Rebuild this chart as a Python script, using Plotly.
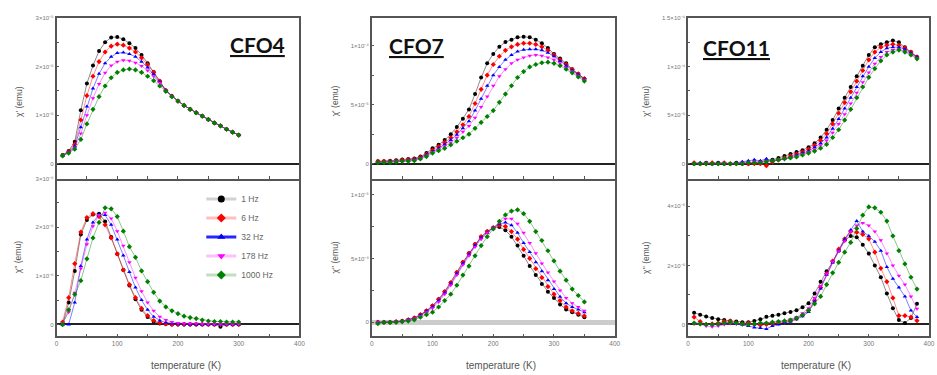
import plotly.graph_objects as go

# ---------------- data ----------------
FREQ_LABELS = ["1 Hz", "6 Hz", "32 Hz", "178 Hz", "1000 Hz"]
SAMPLES = ["CFO4", "CFO7", "CFO11"]

T_CFO4 = [10, 20, 30, 40, 50, 60, 70, 80, 90, 100, 110, 120, 130, 140, 150,
          160, 170, 180, 190, 200, 210, 220, 230, 240, 250, 260, 270, 280, 290, 300]
T_CFO7 = [10, 20, 30, 40, 50, 60, 70, 80, 90, 100, 110, 120, 130, 140, 150,
          160, 170, 180, 190, 200, 210, 220, 230, 240, 250, 260, 270, 280, 290, 300,
          310, 320, 330, 340, 350]
T_CFO11 = [10, 20, 30, 40, 50, 60, 70, 80, 90, 100, 110, 120, 130, 140, 150,
           160, 170, 180, 190, 200, 210, 220, 230, 240, 250, 260, 270, 280, 290, 300,
           310, 320, 330, 340, 350, 360, 370, 380]

# chi' of CFO4 (units of 1e-5 emu)
CFO4_REAL_1HZ = [0.18, 0.26, 0.45, 1.10, 1.65, 2.02, 2.32, 2.50, 2.60, 2.61, 2.56, 2.48, 2.38, 2.24, 2.07,
                 1.89, 1.70, 1.50, 1.39, 1.29, 1.20, 1.12, 1.05, 0.98, 0.91, 0.84, 0.78, 0.71, 0.65, 0.59]
CFO4_REAL_6HZ = [0.17, 0.25, 0.40, 0.90, 1.40, 1.80, 2.10, 2.30, 2.42, 2.46, 2.44, 2.38, 2.30, 2.18, 2.04,
                 1.88, 1.70, 1.51, 1.39, 1.29, 1.20, 1.12, 1.05, 0.98, 0.91, 0.84, 0.78, 0.71, 0.65, 0.59]
CFO4_REAL_32HZ = [0.17, 0.24, 0.36, 0.75, 1.18, 1.55, 1.85, 2.07, 2.20, 2.28, 2.29, 2.26, 2.20, 2.10, 1.98,
                  1.84, 1.68, 1.51, 1.39, 1.29, 1.20, 1.12, 1.05, 0.98, 0.91, 0.84, 0.78, 0.71, 0.65, 0.59]
CFO4_REAL_178HZ = [0.16, 0.23, 0.33, 0.62, 1.00, 1.35, 1.64, 1.87, 2.02, 2.10, 2.13, 2.12, 2.08, 2.01, 1.92,
                   1.80, 1.66, 1.50, 1.39, 1.29, 1.20, 1.12, 1.05, 0.98, 0.91, 0.84, 0.78, 0.71, 0.65, 0.59]
CFO4_REAL_1000HZ = [0.16, 0.22, 0.30, 0.50, 0.82, 1.12, 1.38, 1.60, 1.77, 1.88, 1.93, 1.95, 1.93, 1.88, 1.80,
                    1.71, 1.60, 1.49, 1.38, 1.29, 1.20, 1.12, 1.05, 0.98, 0.91, 0.84, 0.78, 0.71, 0.65, 0.59]

# chi'' of CFO4 (units of 1e-6 emu)
CFO4_IMAG_1HZ = [0.00, 0.45, 1.10, 1.85, 2.15, 2.26, 2.28, 2.12, 1.80, 1.45, 1.12, 0.80, 0.52, 0.30, 0.15,
                 0.06, 0.02, 0.01, 0.00, 0.00, 0.00, 0.00, 0.00, 0.00, 0.00, 0.00, -0.05, 0.00, 0.00, 0.00]
CFO4_IMAG_6HZ = [0.05, 0.55, 1.25, 1.90, 2.20, 2.28, 2.22, 2.05, 1.78, 1.45, 1.12, 0.82, 0.55, 0.33, 0.18,
                 0.08, 0.03, 0.01, 0.00, 0.00, 0.00, 0.00, 0.00, 0.00, 0.00, 0.00, 0.00, 0.00, 0.00, 0.00]
CFO4_IMAG_32HZ = [0.00, 0.00, 0.45, 1.20, 1.75, 2.10, 2.26, 2.25, 2.05, 1.75, 1.42, 1.08, 0.76, 0.50, 0.30,
                  0.16, 0.08, 0.04, 0.02, 0.01, 0.01, 0.00, 0.00, 0.00, 0.00, 0.00, 0.00, 0.00, 0.00, 0.00]
CFO4_IMAG_178HZ = [0.03, 0.25, 0.65, 1.15, 1.65, 2.02, 2.25, 2.30, 2.18, 1.92, 1.62, 1.28, 0.96, 0.68, 0.45,
                   0.28, 0.16, 0.09, 0.05, 0.03, 0.02, 0.02, 0.02, 0.01, 0.01, 0.01, 0.01, 0.01, 0.01, 0.01]
CFO4_IMAG_1000HZ = [0.00, 0.30, 0.62, 0.90, 1.35, 1.78, 2.10, 2.40, 2.38, 2.22, 1.92, 1.60, 1.38, 1.10, 0.88,
                    0.66, 0.48, 0.36, 0.28, 0.22, 0.17, 0.14, 0.12, 0.09, 0.07, 0.06, 0.06, 0.05, 0.05, 0.05]

# chi' of CFO7 (units of 1e-4 emu)
CFO7_REAL_1HZ = [0.02, 0.02, 0.025, 0.03, 0.035, 0.04, 0.045, 0.06, 0.09, 0.13,
                 0.16, 0.20, 0.25, 0.31, 0.38, 0.46, 0.59, 0.73, 0.85, 0.93,
                 0.99, 1.03, 1.05, 1.07, 1.075, 1.07, 1.05, 1.02, 0.98, 0.93,
                 0.89, 0.85, 0.80, 0.76, 0.72]
CFO7_REAL_6HZ = [0.02, 0.02, 0.02, 0.025, 0.03, 0.035, 0.04, 0.055, 0.08, 0.115,
                 0.145, 0.18, 0.22, 0.27, 0.33, 0.40, 0.51, 0.63, 0.75, 0.84,
                 0.91, 0.96, 0.99, 1.01, 1.02, 1.02, 1.01, 0.99, 0.96, 0.92,
                 0.88, 0.84, 0.80, 0.76, 0.72]
CFO7_REAL_32HZ = [0.015, 0.015, 0.02, 0.02, 0.025, 0.03, 0.035, 0.05, 0.075, 0.105,
                  0.13, 0.165, 0.20, 0.245, 0.30, 0.36, 0.45, 0.55, 0.66, 0.75,
                  0.82, 0.88, 0.92, 0.95, 0.965, 0.97, 0.97, 0.96, 0.94, 0.91,
                  0.87, 0.83, 0.79, 0.755, 0.715]
CFO7_REAL_178HZ = [0.01, 0.015, 0.015, 0.02, 0.02, 0.025, 0.03, 0.045, 0.07, 0.10,
                   0.12, 0.15, 0.18, 0.22, 0.27, 0.32, 0.39, 0.48, 0.57, 0.66,
                   0.74, 0.80, 0.85, 0.88, 0.90, 0.915, 0.92, 0.915, 0.90, 0.88,
                   0.85, 0.81, 0.78, 0.745, 0.71]
CFO7_REAL_1000HZ = [0.01, 0.01, 0.01, 0.015, 0.02, 0.02, 0.025, 0.04, 0.06, 0.09,
                    0.11, 0.13, 0.16, 0.19, 0.22, 0.25, 0.30, 0.35, 0.40, 0.45,
                    0.52, 0.59, 0.66, 0.73, 0.78, 0.82, 0.84, 0.855, 0.86, 0.85,
                    0.83, 0.80, 0.77, 0.735, 0.70]

# chi'' of CFO7 (units of 1e-5 emu)
CFO7_IMAG_1HZ = [0.0, 0.0, 0.0, 0.005, 0.01, 0.02, 0.035, 0.06, 0.09, 0.13,
                 0.18, 0.24, 0.31, 0.39, 0.47, 0.54, 0.61, 0.67, 0.71, 0.74,
                 0.745, 0.72, 0.67, 0.60, 0.52, 0.44, 0.37, 0.30, 0.24, 0.19,
                 0.14, 0.10, 0.08, 0.06, 0.04]
CFO7_IMAG_6HZ = [0.0, 0.0, 0.0, 0.005, 0.01, 0.02, 0.035, 0.06, 0.09, 0.13,
                 0.18, 0.24, 0.31, 0.39, 0.47, 0.54, 0.61, 0.67, 0.71, 0.74,
                 0.76, 0.75, 0.71, 0.65, 0.57, 0.50, 0.42, 0.35, 0.28, 0.22,
                 0.17, 0.12, 0.09, 0.07, 0.05]
CFO7_IMAG_32HZ = [0.0, 0.0, 0.0, 0.005, 0.01, 0.02, 0.03, 0.055, 0.085, 0.12,
                  0.17, 0.23, 0.30, 0.38, 0.46, 0.53, 0.60, 0.66, 0.70, 0.74,
                  0.77, 0.78, 0.76, 0.70, 0.62, 0.55, 0.47, 0.40, 0.33, 0.26,
                  0.20, 0.15, 0.12, 0.10, 0.08]
CFO7_IMAG_178HZ = [0.0, 0.0, 0.0, 0.005, 0.01, 0.02, 0.03, 0.05, 0.08, 0.11,
                   0.16, 0.22, 0.29, 0.37, 0.45, 0.52, 0.59, 0.65, 0.70, 0.74,
                   0.78, 0.81, 0.81, 0.77, 0.70, 0.62, 0.54, 0.46, 0.39, 0.32,
                   0.25, 0.19, 0.15, 0.12, 0.09]
CFO7_IMAG_1000HZ = [-0.01, 0.0, 0.0, 0.0, 0.005, 0.01, 0.02, 0.04, 0.06, 0.08,
                    0.12, 0.17, 0.22, 0.29, 0.37, 0.44, 0.52, 0.60, 0.67, 0.73,
                    0.79, 0.84, 0.87, 0.88, 0.85, 0.79, 0.71, 0.64, 0.56, 0.48,
                    0.40, 0.33, 0.26, 0.21, 0.16]

# chi' of CFO11 (units of 1e-4 emu)
CFO11_REAL_1HZ = [0.0, 0.0, 0.01, 0.0, 0.01, 0.0, 0.0, 0.01, 0.0, 0.0,
                  0.01, 0.02, 0.03, 0.04, 0.06, 0.08, 0.10, 0.12, 0.14, 0.17,
                  0.21, 0.27, 0.35, 0.45, 0.57, 0.68, 0.79, 0.90, 1.01, 1.12,
                  1.20, 1.23, 1.25, 1.27, 1.25, 1.20, 1.15, 1.10]
CFO11_REAL_6HZ = [0.01, 0.0, 0.0, 0.01, 0.0, 0.01, 0.0, 0.0, 0.01, 0.0,
                  0.0, 0.0, -0.02, 0.02, 0.04, 0.06, 0.08, 0.10, 0.12, 0.15,
                  0.19, 0.24, 0.31, 0.41, 0.52, 0.63, 0.74, 0.85, 0.96, 1.07,
                  1.15, 1.20, 1.22, 1.23, 1.22, 1.19, 1.15, 1.10]
CFO11_REAL_32HZ = [0.0, 0.01, 0.0, 0.0, 0.01, 0.0, 0.0, 0.01, 0.02, 0.03,
                   0.04, 0.03, 0.05, 0.03, 0.04, 0.05, 0.07, 0.09, 0.11, 0.13,
                   0.17, 0.21, 0.27, 0.36, 0.46, 0.57, 0.68, 0.79, 0.90, 1.00,
                   1.09, 1.15, 1.19, 1.20, 1.20, 1.18, 1.14, 1.10]
CFO11_REAL_178HZ = [0.0, 0.0, 0.01, 0.0, 0.0, 0.01, 0.0, 0.0, 0.01, 0.01,
                    0.02, 0.02, 0.03, 0.03, 0.04, 0.05, 0.06, 0.08, 0.10, 0.12,
                    0.15, 0.19, 0.24, 0.32, 0.41, 0.51, 0.62, 0.73, 0.84, 0.94,
                    1.03, 1.10, 1.15, 1.17, 1.18, 1.16, 1.13, 1.09]
CFO11_REAL_1000HZ = [0.0, 0.0, 0.0, 0.0, 0.0, 0.0, 0.0, 0.0, 0.0, 0.01,
                     0.01, 0.01, 0.02, 0.03, 0.04, 0.05, 0.06, 0.07, 0.09, 0.11,
                     0.13, 0.16, 0.20, 0.27, 0.35, 0.45, 0.56, 0.68, 0.79, 0.89,
                     0.98, 1.06, 1.12, 1.15, 1.17, 1.15, 1.12, 1.08]

# chi'' of CFO11 (units of 1e-6 emu)
CFO11_IMAG_1HZ = [0.40, 0.33, 0.27, 0.22, 0.18, 0.15, 0.12, 0.10, 0.08, 0.08,
                  0.12, 0.18, 0.26, 0.30, 0.33, 0.38, 0.42, 0.48, 0.58, 0.72,
                  1.05, 1.45, 1.80, 2.12, 2.50, 2.85, 3.00, 2.95, 2.70, 2.40,
                  2.00, 1.60, 1.05, 0.55, 0.15, 0.05, 0.22, 0.70]
CFO11_IMAG_6HZ = [0.25, 0.10, 0.00, 0.02, 0.05, 0.10, 0.12, 0.05, 0.02, 0.05,
                  0.00, -0.02, 0.00, 0.02, 0.05, 0.08, 0.12, 0.20, 0.32, 0.48,
                  0.82, 1.25, 1.72, 2.15, 2.55, 2.90, 3.15, 3.12, 3.05, 2.90,
                  2.45, 1.90, 1.45, 0.90, 0.30, 0.30, 0.25, 0.13]
CFO11_IMAG_32HZ = [0.05, 0.03, 0.02, 0.00, 0.02, 0.05, 0.05, 0.02, 0.00, -0.05,
                   -0.10, -0.12, -0.15, -0.05, 0.00, 0.05, 0.10, 0.18, 0.28, 0.42,
                   0.78, 1.22, 1.68, 2.10, 2.50, 2.88, 3.20, 3.50, 3.15, 3.00,
                   2.80, 2.50, 1.95, 1.55, 1.25, 0.95, 0.47, 0.25]
CFO11_IMAG_178HZ = [0.02, 0.00, -0.05, -0.08, -0.05, 0.00, 0.03, 0.02, 0.00, 0.02,
                    0.00, 0.03, 0.05, 0.08, 0.10, 0.12, 0.18, 0.25, 0.38, 0.55,
                    0.90, 1.30, 1.72, 2.12, 2.48, 2.82, 3.15, 3.35, 3.44, 3.35,
                    3.15, 2.85, 2.40, 2.00, 1.65, 1.35, 0.95, 0.53]
CFO11_IMAG_1000HZ = [0.05, 0.02, 0.00, 0.00, 0.02, 0.05, 0.08, 0.05, 0.02, 0.00,
                     0.02, 0.05, 0.05, 0.08, 0.10, 0.12, 0.15, 0.22, 0.32, 0.48,
                     0.70, 0.95, 1.35, 1.75, 2.10, 2.45, 2.78, 3.25, 3.70, 3.98,
                     3.95, 3.80, 3.50, 3.00, 2.50, 2.05, 1.60, 1.20]

# tick positions / labels (blank labels mark the minor ticks)
X_TICKS = [0, 50, 100, 150, 200, 250, 300, 350, 400]
X_LABELS = ["0", "", "100", "", "200", "", "300", "", "400"]
CFO4_REAL_TICKS = [0, 0.5, 1, 1.5, 2, 2.5, 3]
CFO4_REAL_LABELS = ["0", "", "1×10⁻⁵", "", "2×10⁻⁵", "", "3×10⁻⁵"]
CFO4_IMAG_TICKS = [0, 0.5, 1, 1.5, 2, 2.5, 3]
CFO4_IMAG_LABELS = ["0", "", "1×10⁻⁶", "", "2×10⁻⁶", "", "3×10⁻⁶"]
CFO7_REAL_TICKS = [0, 0.25, 0.5, 0.75, 1.0]
CFO7_REAL_LABELS = ["0", "", "5×10⁻⁵", "", "1×10⁻⁴"]
CFO7_IMAG_TICKS = [0, 0.25, 0.5, 0.75, 1.0]
CFO7_IMAG_LABELS = ["0", "", "5×10⁻⁶", "", "1×10⁻⁵"]
CFO11_REAL_TICKS = [0, 0.25, 0.5, 0.75, 1.0, 1.25, 1.5]
CFO11_REAL_LABELS = ["0", "", "5×10⁻⁵", "", "1×10⁻⁴", "", "1.5×10⁻⁴"]
CFO11_IMAG_TICKS = [0, 1, 2, 3, 4]
CFO11_IMAG_LABELS = ["0", "", "2×10⁻⁶", "", "4×10⁻⁶"]

# ---------------- styling ----------------
COLORS = ["#000000", "#ff0000", "#0000ff", "#ff00ff", "#008000"]
LINE_COLORS = ["rgba(0,0,0,0.45)", "rgba(255,0,0,0.45)", "rgba(0,0,255,0.5)",
               "rgba(255,0,255,0.45)", "rgba(0,128,0,0.45)"]
LEGEND_LINE_COLORS = ["rgba(0,0,0,0.18)", "rgba(255,0,0,0.25)", "rgba(0,0,255,0.85)",
                      "rgba(255,0,255,0.25)", "rgba(0,128,0,0.25)"]
SYMBOLS = ["circle", "diamond", "triangle-up", "triangle-down", "diamond"]

W, H = 937, 375
PANEL_X = [(55, 300), (373, 618), (692, 935)]
TOP_Y = (15, 177)
BOT_Y = (177, 336)

panels = [
    dict(T=T_CFO4,
         real=[CFO4_REAL_1HZ, CFO4_REAL_6HZ, CFO4_REAL_32HZ, CFO4_REAL_178HZ, CFO4_REAL_1000HZ],
         imag=[CFO4_IMAG_1HZ, CFO4_IMAG_6HZ, CFO4_IMAG_32HZ, CFO4_IMAG_178HZ, CFO4_IMAG_1000HZ],
         rrange=[-0.306, 3.002], rt=CFO4_REAL_TICKS, rl=CFO4_REAL_LABELS,
         irange=[-0.245, 3.002], it=CFO4_IMAG_TICKS, il=CFO4_IMAG_LABELS,
         izero="#222222", izw=1.5,
         title_xy=(258, 42), ylab_x=17),
    dict(T=T_CFO7,
         real=[CFO7_REAL_1HZ, CFO7_REAL_6HZ, CFO7_REAL_32HZ, CFO7_REAL_178HZ, CFO7_REAL_1000HZ],
         imag=[CFO7_IMAG_1HZ, CFO7_IMAG_6HZ, CFO7_IMAG_32HZ, CFO7_IMAG_178HZ, CFO7_IMAG_1000HZ],
         rrange=[-0.126, 1.235], rt=CFO7_REAL_TICKS, rl=CFO7_REAL_LABELS,
         irange=[-0.109, 1.124], it=CFO7_IMAG_TICKS, il=CFO7_IMAG_LABELS,
         izero="#cccccc", izw=5,
         title_xy=(418, 43), ylab_x=336),
    dict(T=T_CFO11,
         real=[CFO11_REAL_1HZ, CFO11_REAL_6HZ, CFO11_REAL_32HZ, CFO11_REAL_178HZ, CFO11_REAL_1000HZ],
         imag=[CFO11_IMAG_1HZ, CFO11_IMAG_6HZ, CFO11_IMAG_32HZ, CFO11_IMAG_178HZ, CFO11_IMAG_1000HZ],
         rrange=[-0.153, 1.502], rt=CFO11_REAL_TICKS, rl=CFO11_REAL_LABELS,
         irange=[-0.40, 4.94], it=CFO11_IMAG_TICKS, il=CFO11_IMAG_LABELS,
         izero="#222222", izw=1.5,
         title_xy=(741, 45), ylab_x=650),
]

for p in panels:
    for s in p["real"] + p["imag"]:
        assert len(s) == len(p["T"]), (len(s), len(p["T"]))

fig = go.Figure()
layout = dict(width=W, height=H, margin=dict(l=0, r=0, t=0, b=0), autosize=False,
              paper_bgcolor="white", plot_bgcolor="white", showlegend=True,
              font=dict(family="Liberation Sans, Arial, sans-serif", color="#555555"))

FRAME = "#555555"
TICKFONT = dict(size=6, color="#777777")
annotations = []


def px_x(x):
    return x / W


def px_y(y):
    return 1 - y / H


for i, p in enumerate(panels):
    x0, x1 = PANEL_X[i]
    for j, (kind, yy) in enumerate([("real", TOP_Y), ("imag", BOT_Y)]):
        n = 2 * i + j + 1
        xa = "x" if n == 1 else f"x{n}"
        ya = "y" if n == 1 else f"y{n}"
        xkey = "xaxis" if n == 1 else f"xaxis{n}"
        ykey = "yaxis" if n == 1 else f"yaxis{n}"
        is_bottom = (kind == "imag")
        layout[xkey] = dict(domain=[px_x(x0), px_x(x1)], anchor=ya, range=[0, 400],
                            tickmode="array", tickvals=X_TICKS, ticktext=X_LABELS,
                            showticklabels=is_bottom,
                            ticks="inside", ticklen=2.5, tickcolor=FRAME, tickwidth=1,
                            showline=True, linecolor=FRAME, linewidth=1.5,
                            mirror=False if is_bottom else True,
                            showgrid=False, zeroline=False, tickfont=dict(size=6.5, color="#777777"),
                            fixedrange=True)
        if kind == "real":
            rng, tv, tt = p["rrange"], p["rt"], p["rl"]
            zc, zw = "#222222", 1.5
        else:
            rng, tv, tt = p["irange"], p["it"], p["il"]
            zc, zw = p["izero"], p["izw"]
        layout[ykey] = dict(domain=[px_y(yy[1]), px_y(yy[0])], anchor=xa, range=rng,
                            tickmode="array", tickvals=tv, ticktext=tt, ticks="inside",
                            ticklen=2.5, tickcolor=FRAME, tickwidth=1,
                            showline=True, linecolor=FRAME, linewidth=1.5, mirror=True,
                            showgrid=False, zeroline=True, zerolinecolor=zc, zerolinewidth=zw,
                            tickfont=TICKFONT, fixedrange=True)
        series = p[kind]
        for k in range(5):
            fig.add_trace(go.Scatter(
                x=p["T"], y=series[k], xaxis=xa, yaxis=ya, mode="lines+markers",
                line=dict(color=LINE_COLORS[k], width=1),
                marker=dict(symbol=SYMBOLS[k], size=4, color=COLORS[k], line=dict(width=0)),
                showlegend=False, cliponaxis=True))
        ylab = "χ' (emu)" if kind == "real" else "χ'' (emu)"
        cy = (yy[0] + yy[1]) / 2 + (3 if kind == "real" else 0)
        annotations.append(dict(text=ylab, x=px_x(p["ylab_x"]), y=px_y(cy),
                                xref="paper", yref="paper", showarrow=False, textangle=-90,
                                font=dict(size=8.5, color="#555555"),
                                xanchor="center", yanchor="middle"))
    # title
    tx, ty = p["title_xy"]
    annotations.append(dict(text=f"<b><u>{SAMPLES[i]}</u></b>", x=px_x(tx), y=px_y(ty),
                            xref="paper", yref="paper", showarrow=False,
                            font=dict(size=21, color="#111111", family="Lato, Carlito, sans-serif"),
                            xanchor="center", yanchor="middle"))
    # x title
    annotations.append(dict(text="temperature (K)", x=px_x((x0 + x1) / 2 + 8), y=px_y(365),
                            xref="paper", yref="paper", showarrow=False,
                            font=dict(size=10, color="#555555"),
                            xanchor="center", yanchor="middle"))

# legend-only entries
for k in range(5):
    fig.add_trace(go.Scatter(
        x=[None], y=[None], xaxis="x2", yaxis="y2", mode="lines+markers", name=FREQ_LABELS[k],
        line=dict(color=LEGEND_LINE_COLORS[k], width=3),
        marker=dict(symbol=SYMBOLS[k], size=7, color=COLORS[k]), showlegend=True))

layout["legend"] = dict(x=px_x(201), y=px_y(183), xanchor="left", yanchor="top",
                        bgcolor="rgba(0,0,0,0)", font=dict(size=8.5, color="#666666"),
                        tracegroupgap=0, itemwidth=30)
layout["annotations"] = annotations
fig.update_layout(**layout)
fig.write_html("out.html", config={"displayModeBar": False},
               post_script="document.body.style.margin='0';document.body.style.padding='0';"
                           "document.documentElement.style.overflow='hidden';")
